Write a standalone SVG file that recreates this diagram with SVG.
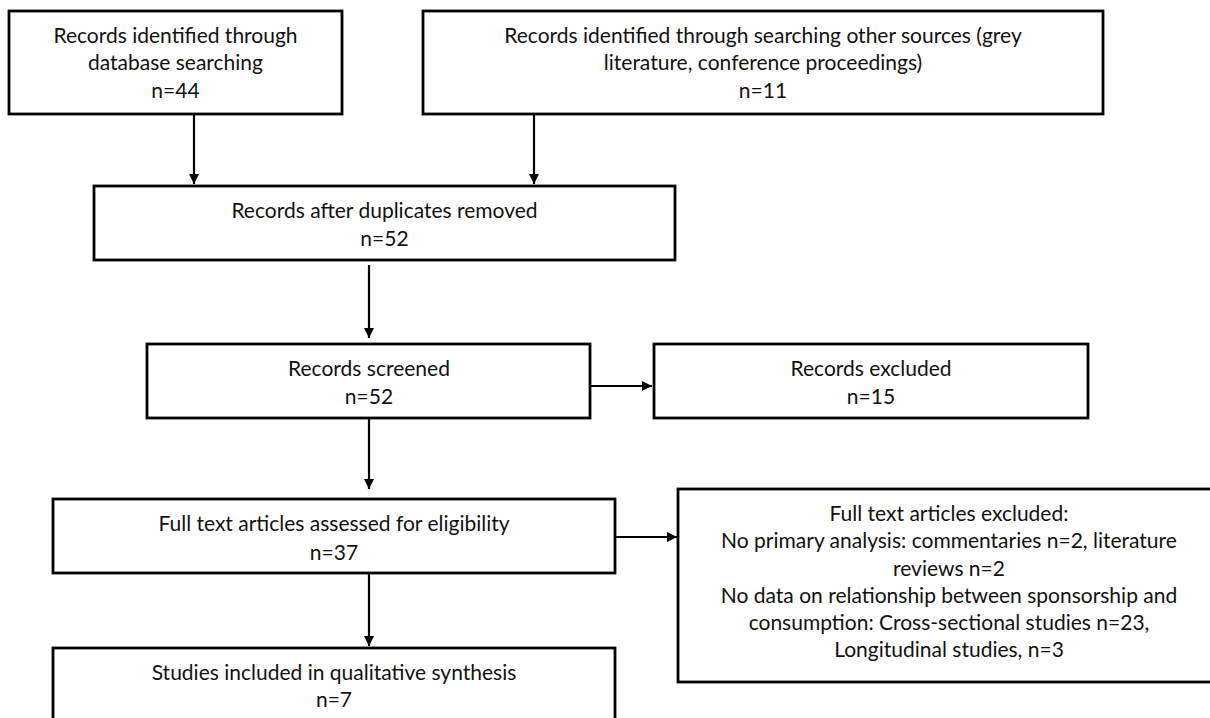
<svg xmlns="http://www.w3.org/2000/svg" width="1210" height="718" viewBox="0 0 1210 718">
<defs>
<style>
.box{fill:#ffffff;stroke:#000000;stroke-width:2.8}
.t{font-family:Lato,"Open Sans","Liberation Sans",sans-serif;font-size:21px;fill:#111111;text-anchor:middle}
.c{stroke:#000000;stroke-width:2.2;fill:none}
</style>
<marker id="ah" markerWidth="11" markerHeight="11" refX="10" refY="5" orient="auto" markerUnits="userSpaceOnUse">
<path d="M0,0 L10,5 L0,10 Z" fill="#000000"/>
</marker>
</defs>
<rect x="0" y="0" width="1210" height="718" fill="#ffffff"/>
<g id="connectors">
<line class="c" x1="194" y1="114" x2="194" y2="184" marker-end="url(#ah)"/>
<line class="c" x1="534" y1="114" x2="534" y2="184" marker-end="url(#ah)"/>
<line class="c" x1="369" y1="265" x2="369" y2="338" marker-end="url(#ah)"/>
<line class="c" x1="590" y1="386" x2="652" y2="386" marker-end="url(#ah)"/>
<line class="c" x1="369" y1="418" x2="369" y2="489" marker-end="url(#ah)"/>
<line class="c" x1="615" y1="537" x2="677" y2="537" marker-end="url(#ah)"/>
<line class="c" x1="369" y1="573" x2="369" y2="646" marker-end="url(#ah)"/>
</g>
<g id="n1">
<rect class="box" x="9" y="11" width="333" height="103"/>
<text class="t" x="175.5" y="42.5">Records identified through</text>
<text class="t" x="175.5" y="70">database searching</text>
<text class="t" x="175.5" y="97.5">n=44</text>
</g>
<g id="n2">
<rect class="box" x="423" y="11" width="680" height="103"/>
<text class="t" x="763" y="42.5">Records identified through searching other sources (grey</text>
<text class="t" x="763" y="70">literature, conference proceedings)</text>
<text class="t" x="763" y="97.5">n=11</text>
</g>
<g id="n3">
<rect class="box" x="94" y="186" width="581" height="74"/>
<text class="t" x="384.5" y="218">Records after duplicates removed</text>
<text class="t" x="384.5" y="246">n=52</text>
</g>
<g id="n4">
<rect class="box" x="147" y="344" width="443" height="74"/>
<text class="t" x="369" y="375.5">Records screened</text>
<text class="t" x="369" y="404">n=52</text>
</g>
<g id="n5">
<rect class="box" x="654" y="344" width="434" height="74"/>
<text class="t" x="871" y="375.5">Records excluded</text>
<text class="t" x="871" y="404">n=15</text>
</g>
<g id="n6">
<rect class="box" x="53" y="499" width="562" height="74"/>
<text class="t" x="334" y="531">Full text articles assessed for eligibility</text>
<text class="t" x="334" y="560">n=37</text>
</g>
<g id="n7">
<rect class="box" x="678" y="489" width="545" height="193"/>
<text class="t" x="949" y="521">Full text articles excluded:</text>
<text class="t" x="949" y="548">No primary analysis: commentaries n=2, literature</text>
<text class="t" x="949" y="575.5">reviews n=2</text>
<text class="t" x="949" y="603">No data on relationship between sponsorship and</text>
<text class="t" x="949" y="630">consumption: Cross-sectional studies n=23,</text>
<text class="t" x="949" y="657">Longitudinal studies, n=3</text>
</g>
<g id="n8">
<rect class="box" x="53" y="648" width="562" height="90"/>
<text class="t" x="334" y="680">Studies included in qualitative synthesis</text>
<text class="t" x="334" y="707">n=7</text>
</g>
</svg>
